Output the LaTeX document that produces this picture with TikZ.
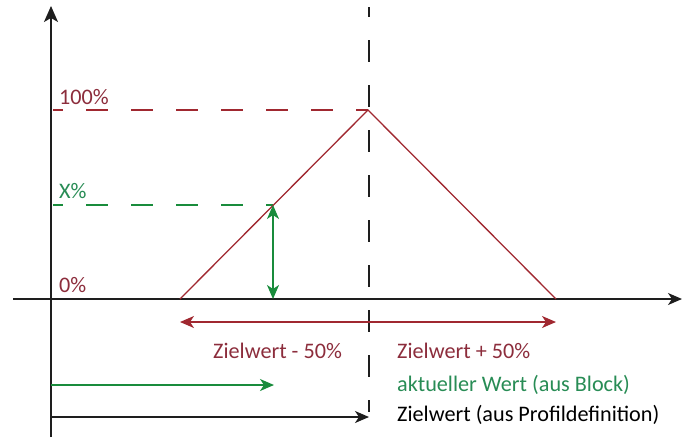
\documentclass[tikz,border=0pt]{standalone}
\usepackage{fontspec}
\setmainfont{Carlito}
\usetikzlibrary{arrows.meta}
\definecolor{dred}{RGB}{160,40,48}
\definecolor{tred}{RGB}{140,45,60}
\definecolor{dgreen}{RGB}{25,140,60}
\definecolor{tgreen}{RGB}{40,140,85}
\definecolor{axis}{RGB}{30,30,30}
\tikzset{
  axisline/.style={axis, line width=1.4pt},
  tri/.style={dred, line width=1.3pt, line join=miter},
  guide/.style={line width=1.3pt, dash pattern=on 22pt off 23pt, dash phase=12pt},
  lbl/.style={inner sep=0pt, font=\fontsize{22.2}{26}\selectfont},
}
\begin{document}
\begin{tikzpicture}[x=1pt,y=-1pt,
  >={Stealth[length=14pt,width=12pt,inset=4pt]}]
\useasboundingbox (0,0) rectangle (682,437);
% coordinates
\coordinate (o) at (51,299);
\coordinate (ytop) at (51,6);
\coordinate (ybot) at (51,437);
\coordinate (xleft) at (13,299);
\coordinate (xright) at (682,299);
\coordinate (L) at (180,299);
\coordinate (P) at (368,110);
\coordinate (R) at (556,299);
\coordinate (X) at (273,205);
\coordinate (Xb) at (273,299);
\coordinate (h100) at (53,110);
\coordinate (hx) at (53,205);
\coordinate (vtop) at (369,7);
\coordinate (vbot) at (369,412);
\coordinate (rl) at (180,322);
\coordinate (rr) at (556,322);
\coordinate (g0) at (51,385);
\coordinate (g1) at (274,385);
\coordinate (b0) at (51,417);
\coordinate (b1) at (369,417);
% guides
\draw[guide, dred] (h100) -- (P);
\draw[guide, dgreen] (hx) -- (X);
\draw[guide, axis] (vtop) -- (vbot);
% axes
\draw[axisline, -{Stealth[length=16pt,width=14pt,inset=4pt]}] (ybot) -- (ytop);
\draw[axisline, -{Stealth[length=14pt,width=12pt,inset=4pt]}] (xleft) -- (xright);
% triangle
\draw[tri] (L) -- (P) -- (R);
% arrows
\draw[dgreen, line width=1.4pt, <->] (X) -- (Xb);
\draw[dred, line width=1.4pt, <->] (rl) -- (rr);
\draw[dgreen, line width=1.6pt, ->] (g0) -- (g1);
\draw[axis, line width=1.4pt, ->] (b0) -- (b1);
% labels
\node[lbl, tred, anchor=base west] (t100) at (59,104) {100\%};
\node[lbl, tgreen, anchor=base west] (tx) at (59,198) {X\%};
\node[lbl, tred, anchor=base west] (t0) at (59,292) {0\%};
\node[lbl, tred, anchor=base west] (tminus) at (213,358) {Zielwert - 50\%};
\node[lbl, tred, anchor=base west] (tplus) at (397,358) {Zielwert + 50\%};
\node[lbl, tgreen, anchor=base west] (takt) at (397,391) {aktueller Wert (aus Block)};
\node[lbl, black, anchor=base west] (tziel) at (397,421) {Zielwert (aus Profildefinition)};
\end{tikzpicture}
\end{document}
